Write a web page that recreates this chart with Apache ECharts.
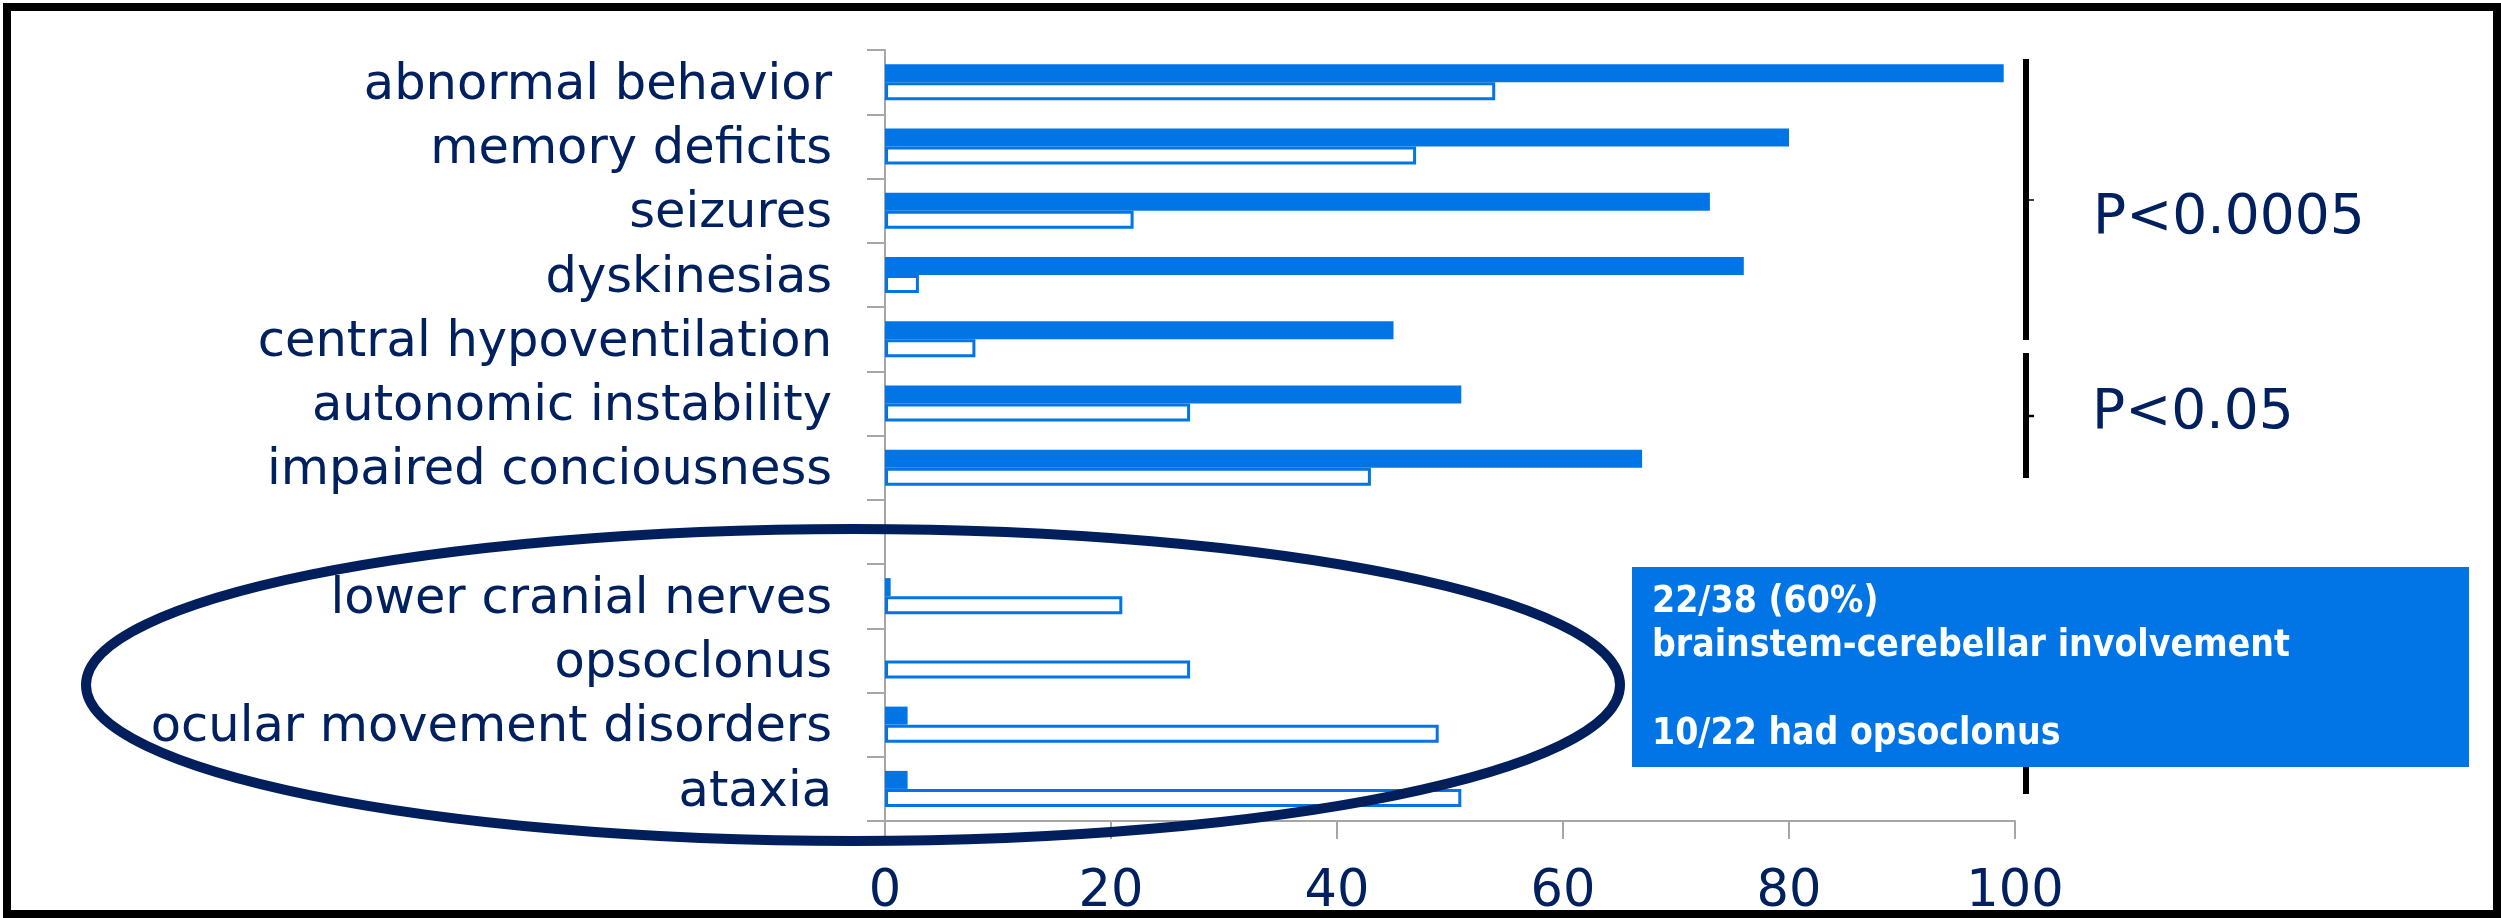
<!DOCTYPE html>
<html>
<head>
<meta charset="utf-8">
<script src="https://cdn.jsdelivr.net/npm/echarts@6/dist/echarts.min.js"></script>
<style>
  html, body { margin: 0; padding: 0; background: #ffffff; }
  #chart { width: 2501px; height: 918px; }
</style>
</head>
<body>
<div id="chart"></div>
<script>
// Symptom categories, top to bottom; the empty entry separates the two groups
const categories = [
  'abnormal behavior',
  'memory deficits',
  'seizures',
  'dyskinesias',
  'central hypoventilation',
  'autonomic instability',
  'impaired conciousness',
  '',
  'lower cranial nerves',
  'opsoclonus',
  'ocular movement disorders',
  'ataxia'
];

// Percentages per group (solid bars / outlined bars)
const solidValues   = [99, 80, 73, 76, 45, 51, 67, null, 0.5, 0, 2, 2];
const outlineValues = [54, 47, 22, 3, 8, 27, 43, null, 21, 27, 49, 51];

// Value-axis ticks
const xTicks = [0, 20, 40, 60, 80, 100];

// Annotation texts
const pLabels = ['P<0.0005', 'P<0.05'];
const boxLines = ['22/38 (60%)', 'brainstem-cerebellar involvement', '', '10/22 had opsoclonus'];

const NAVY = '#002060';
const BLUE = '#0174E6';
const AXIS_GREY = '#A6A6A6';
const FONT = '"DejaVu Sans", Verdana, sans-serif';
const FONT_NARROW = '"DejaVu Sans Condensed", "DejaVu Sans", sans-serif';

const chart = echarts.init(document.getElementById('chart'), null, { renderer: 'canvas' });

chart.setOption({
  backgroundColor: '#ffffff',
  animation: false,
  grid: { left: 885, top: 50, width: 1130, height: 772, containLabel: false },
  xAxis: {
    type: 'value',
    min: xTicks[0],
    max: xTicks[xTicks.length - 1],
    interval: xTicks[1] - xTicks[0],
    axisLine: { show: true, lineStyle: { color: AXIS_GREY, width: 2 } },
    axisTick: { show: true, length: 18, lineStyle: { color: AXIS_GREY, width: 2 } },
    splitLine: { show: false },
    axisLabel: { color: NAVY, fontFamily: FONT, fontSize: 51, margin: 46 }
  },
  yAxis: {
    type: 'category',
    data: categories,
    inverse: true,
    axisLine: { show: true, lineStyle: { color: AXIS_GREY, width: 2 } },
    axisTick: { show: true, length: 18, lineStyle: { color: AXIS_GREY, width: 2 } },
    axisLabel: {
      margin: 53,
      interval: 0,
      formatter: (v) => '{c|' + v + '}',
      rich: {
        c: { color: NAVY, fontFamily: FONT, fontSize: 49.5, padding: [8, 0, 0, 0] }
      }
    },
    splitLine: { show: false }
  },
  series: [
    {
      name: 'solid',
      type: 'bar',
      data: solidValues,
      barWidth: 18,
      barGap: '0%',
      itemStyle: { color: BLUE }
    },
    {
      name: 'outline',
      type: 'bar',
      data: outlineValues,
      barWidth: 18,
      barGap: '0%',
      itemStyle: { color: '#ffffff', borderColor: BLUE, borderWidth: 3 }
    }
  ],
  graphic: [
    // outer frame
    {
      type: 'rect', z: 100,
      shape: { x: 7, y: 7, width: 2490, height: 907 },
      style: { fill: 'none', stroke: '#000000', lineWidth: 8 }
    },
    // significance brackets
    { type: 'line', z: 50, shape: { x1: 2026, y1: 59, x2: 2026, y2: 340 }, style: { stroke: '#000', lineWidth: 6 } },
    { type: 'line', z: 50, shape: { x1: 2026, y1: 200, x2: 2034, y2: 200 }, style: { stroke: '#000', lineWidth: 1.5 } },
    { type: 'line', z: 50, shape: { x1: 2026, y1: 353, x2: 2026, y2: 478 }, style: { stroke: '#000', lineWidth: 6 } },
    { type: 'line', z: 50, shape: { x1: 2026, y1: 416, x2: 2034, y2: 416 }, style: { stroke: '#000', lineWidth: 2.5 } },
    { type: 'line', z: 50, shape: { x1: 2026, y1: 575, x2: 2026, y2: 794 }, style: { stroke: '#000', lineWidth: 6 } },
    // p-values
    {
      type: 'text', z: 60, x: 2093, y: 219,
      style: { text: pLabels[0], fill: NAVY, font: '55px ' + FONT, textVerticalAlign: 'middle', textAlign: 'left' }
    },
    {
      type: 'text', z: 60, x: 2092, y: 414,
      style: { text: pLabels[1], fill: NAVY, font: '55px ' + FONT, textVerticalAlign: 'middle', textAlign: 'left' }
    },
    // call-out box
    {
      type: 'rect', z: 70,
      shape: { x: 1632, y: 567, width: 837, height: 200 },
      style: { fill: BLUE }
    },
    {
      type: 'text', z: 71, x: 1652, y: 580,
      style: {
        text: boxLines.join('\n'),
        fill: '#ffffff',
        font: 'bold 37px ' + FONT_NARROW,
        lineHeight: 44,
        textAlign: 'left',
        textVerticalAlign: 'top'
      }
    },
    // ellipse around the brainstem-cerebellar group
    {
      type: 'ellipse', z: 80,
      shape: { cx: 853, cy: 685, rx: 767, ry: 156 },
      style: { fill: 'none', stroke: '#001F5C', lineWidth: 10 }
    }
  ]
});
</script>
</body>
</html>
